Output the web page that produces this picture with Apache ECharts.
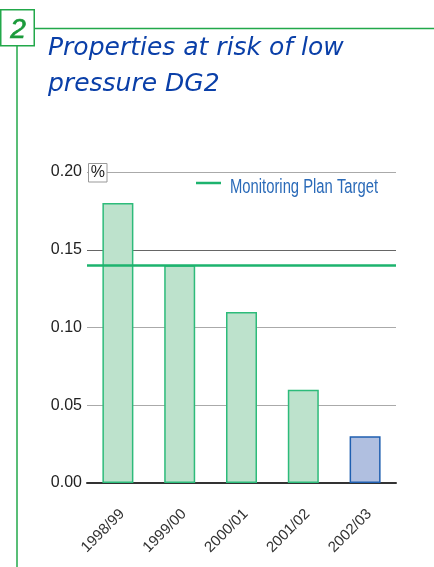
<!DOCTYPE html>
<html><head><meta charset="utf-8">
<script src="https://cdn.jsdelivr.net/npm/echarts@6/dist/echarts.min.js"></script>
<style>html,body{margin:0;padding:0;background:#fff}#c{width:434px;height:567px}</style>
</head><body><div id="c"></div>
<script>
const categories = ['1998/99', '1999/00', '2000/01', '2001/02', '2002/03'];
const values = [0.18, 0.14, 0.11, 0.06, 0.03];
const target = 0.14;
const targetName = 'Monitoring Plan Target';
const yTicks = [0, 0.05, 0.10, 0.15, 0.20];
const titleLines = ['Properties at risk of low', 'pressure DG2'];
const sectionNumber = '2';
const unitLabel = '%';

const green = '#22a84a';
const targetColor = '#1db36e';
const barData = values.map((v, i) => {
  const last = i === values.length - 1;
  return {
    value: v,
    itemStyle: last ? { color: '#b0bfe0', borderColor: '#1f5fb0', borderWidth: 1.5 }
                    : { color: '#bde2cc', borderColor: '#2dbb7a', borderWidth: 1.5 }
  };
});

const chart = echarts.init(document.getElementById('c'), null, { renderer: 'canvas' });
chart.setOption({
  animation: false,
  backgroundColor: '#fff',
  grid: { left: 87, right: 38, top: 172, bottom: 84, containLabel: false },
  xAxis: {
    type: 'category',
    data: categories,
    boundaryGap: true,
    axisLine: { lineStyle: { color: '#333', width: 2 } },
    axisTick: { inside: true, length: 6, lineStyle: { color: '#333', width: 1.3 } },
    axisLabel: { rotate: 45, margin: 33, padding: [0, -6, 0, 0], fontFamily: 'Liberation Sans', fontSize: 15, color: '#333' },
    splitLine: { show: false }
  },
  yAxis: {
    type: 'value',
    min: yTicks[0], max: yTicks[yTicks.length - 1], interval: 0.05,
    axisLine: { show: false },
    axisTick: { show: false },
    axisLabel: { margin: 5, fontFamily: 'Liberation Sans', fontSize: 16, color: '#222',
      formatter: v => v.toFixed(2) },
    splitLine: { lineStyle: { color: ['#aaa', '#aaa', '#aaa', '#666', '#aaa'], width: 1 } }
  },
  series: [
    { type: 'bar', data: barData, barWidth: 31, z: 2 },
    { type: 'line', name: targetName, data: [], color: targetColor,
      markLine: { symbol: 'none', silent: true, label: { show: false },
        lineStyle: { color: targetColor, width: 2.5, type: 'solid' },
        data: [{ yAxis: target }] }, z: 5 }
  ],
  graphic: [
    { type: 'line', shape: { x1: 34, y1: 28.5, x2: 434, y2: 28.5 }, style: { stroke: green, lineWidth: 1.5 } },
    { type: 'line', shape: { x1: 17, y1: 46, x2: 17, y2: 567 }, style: { stroke: green, lineWidth: 1.5 } },
    { type: 'rect', shape: { x: 0.75, y: 9.75, width: 33.5, height: 36 }, style: { fill: '#fff', stroke: green, lineWidth: 1.5 } },
    { type: 'text', x: 18, y: 30.5, style: { text: sectionNumber, font: 'italic 28px "Liberation Sans"', fill: '#1a9a3a', stroke: '#1a9a3a', lineWidth: 0.7, align: 'center', verticalAlign: 'middle' } },
    { type: 'text', x: 48, y: 48.5, style: { text: titleLines[0], font: 'italic 25px "DejaVu Sans"', fill: '#0a3fa8', align: 'left', verticalAlign: 'middle' } },
    { type: 'text', x: 48, y: 84.5, style: { text: titleLines[1], font: 'italic 25px "DejaVu Sans"', fill: '#0a3fa8', align: 'left', verticalAlign: 'middle' } },
    { type: 'rect', z: 10, shape: { x: 88.5, y: 163.5, width: 18.5, height: 18.5 }, style: { fill: '#fff', stroke: '#999', lineWidth: 1 } },
    { type: 'text', z: 11, x: 97.8, y: 173, style: { text: unitLabel, font: '16px "Liberation Sans"', fill: '#222', align: 'center', verticalAlign: 'middle' } },
    { type: 'line', z: 10, shape: { x1: 196, y1: 183, x2: 221, y2: 183 }, style: { stroke: targetColor, lineWidth: 2.5 } },
    { type: 'text', z: 10, x: 230, y: 187, scaleX: 0.74, style: { text: targetName, font: '20px "Liberation Sans"', fill: '#2a6ab8', align: 'left', verticalAlign: 'middle' } }
  ]
});
</script></body></html>
